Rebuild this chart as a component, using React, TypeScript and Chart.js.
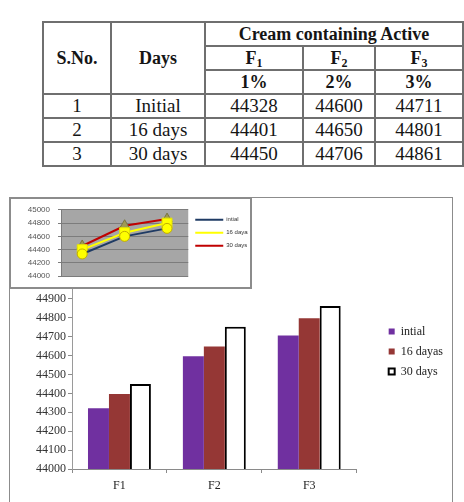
import React, { useEffect, useRef } from 'react';
import { Chart, registerables } from 'chart.js';

Chart.register(...registerables);

// ---------- table data ----------
const tableSNo = ['1', '2', '3'];
const tableDays = ['Initial', '16 days', '30 days'];
const formulationSubs = ['1', '2', '3'];
const concentrations = ['1%', '2%', '3%'];
const tableF1 = [44328, 44401, 44450];
const tableF2 = [44600, 44650, 44706];
const tableF3 = [44711, 44801, 44861];

// ---------- bar chart data ----------
const barCategories = ['F1', 'F2', 'F3'];
const seriesLabels = ['intial', '16 dayas', '30 days'];
const barInitial = [44322, 44597, 44706];
const bar16Days = [44397, 44648, 44797];
const bar30Days = [44450, 44752, 44862];
const barAxisMin = 44000;
const barAxisMax = 45000;
const barAxisStep = 100;

// ---------- inset line chart data ----------
const insetCategories = ['F1', 'F2', 'F3'];
const lineInitial = [44335, 44600, 44720];
const line16Days = [44400, 44655, 44800];
const line30Days = [44455, 44760, 44860];
const insetAxisMin = 44000;
const insetAxisMax = 45000;
const insetAxisStep = 200;

const SERIF = '"Liberation Serif", "Times New Roman", serif';
const SANS = '"Liberation Sans", Arial, sans-serif';

const plotBg = {
  id: 'plotBg',
  beforeDraw(chart: any, _args: any, opts: any) {
    if (!opts || !opts.color) return;
    const { ctx, chartArea: a } = chart;
    ctx.save();
    ctx.fillStyle = opts.color;
    ctx.fillRect(a.left, a.top, a.right - a.left, a.bottom - a.top);
    ctx.restore();
  },
};

const cell: React.CSSProperties = {
  border: '2px solid #6f6f6f',
  padding: 0,
  textAlign: 'center',
  verticalAlign: 'middle',
  whiteSpace: 'nowrap',
  fontFamily: SERIF,
  fontSize: 19,
  lineHeight: '20px',
  fontWeight: 'normal',
  color: '#151515',
};
const head: React.CSSProperties = { ...cell, fontWeight: 'bold', fontSize: 18 };

function DataTable() {
  const dataRows = tableSNo.map((s, i) => [s, tableDays[i], tableF1[i], tableF2[i], tableF3[i]]);
  return (
    <table
      style={{
        position: 'absolute',
        left: 42,
        top: 21,
        width: 420,
        borderCollapse: 'collapse',
        tableLayout: 'fixed',
        fontFamily: SERIF,
        fontSize: 19,
        lineHeight: '20px',
        color: '#151515',
      }}
    >
      <colgroup>
        <col style={{ width: 68 }} />
        <col style={{ width: 94 }} />
        <col style={{ width: 98 }} />
        <col style={{ width: 72 }} />
        <col style={{ width: 88 }} />
      </colgroup>
      <tbody>
        <tr style={{ height: 24 }}>
          <th rowSpan={3} style={head}>S.No.</th>
          <th rowSpan={3} style={head}>Days</th>
          <th colSpan={3} style={head}>Cream containing Active</th>
        </tr>
        <tr style={{ height: 24 }}>
          {formulationSubs.map((s) => (
            <th key={s} style={head}>
              F<sub style={{ fontSize: 12, lineHeight: 0, verticalAlign: '-3px' }}>{s}</sub>
            </th>
          ))}
        </tr>
        <tr style={{ height: 24 }}>
          {concentrations.map((c) => (
            <th key={c} style={head}>{c}</th>
          ))}
        </tr>
        {dataRows.map((r, i) => (
          <tr key={i} style={{ height: 24 }}>
            {r.map((v, j) => (
              <td key={j} style={cell}>{String(v)}</td>
            ))}
          </tr>
        ))}
      </tbody>
    </table>
  );
}

export default function App() {
  const mainRef = useRef<HTMLCanvasElement>(null);
  const insetRef = useRef<HTMLCanvasElement>(null);

  useEffect(() => {
    const tickLabel = (v: any) => String(v);

    const main = new Chart(mainRef.current as HTMLCanvasElement, {
      type: 'bar',
      data: {
        labels: barCategories,
        datasets: [
          { label: seriesLabels[0], data: barInitial, backgroundColor: '#7030A0', borderWidth: 0 },
          { label: seriesLabels[1], data: bar16Days, backgroundColor: '#953735', borderWidth: 0 },
          {
            label: seriesLabels[2],
            data: bar30Days,
            backgroundColor: '#FFFFFF',
            borderColor: '#000000',
            borderWidth: 2,
            borderSkipped: false,
          },
        ],
      },
      options: {
        responsive: false,
        animation: false,
        devicePixelRatio: 1,
        layout: { padding: { top: 83, right: 0, bottom: 0, left: 0 } },
        datasets: { bar: { categoryPercentage: 0.663, barPercentage: 1 } } as any,
        scales: {
          x: {
            grid: { display: true, drawOnChartArea: false, drawTicks: true, tickLength: 4, color: '#8a8a8a', offset: true },
            border: { display: true, color: '#8a8a8a' },
            ticks: { font: { family: SERIF, size: 12 }, color: '#222', padding: 6 },
            afterFit: (s: any) => { s.height = 33; },
          },
          y: {
            min: barAxisMin,
            max: barAxisMax,
            grid: { display: true, drawOnChartArea: false, drawTicks: true, tickLength: 4, color: '#8a8a8a' },
            border: { display: true, color: '#9a9a9a' },
            ticks: { stepSize: barAxisStep, callback: tickLabel, font: { family: SERIF, size: 12 }, color: '#333', padding: 2 },
            afterFit: (s: any) => { s.width = 63; },
          },
          yPad: {
            type: 'linear',
            position: 'right',
            display: true,
            grid: { display: false },
            border: { display: false },
            ticks: { display: false },
            afterFit: (s: any) => { s.width = 24; },
          },
        } as any,
        plugins: {
          legend: {
            position: 'right',
            align: 'start',
            fullSize: false,
            title: { display: true, text: '', padding: { top: 23, bottom: 0 }, font: { size: 12 } },
            labels: {
              boxWidth: 6,
              boxHeight: 6,
              padding: 8,
              font: { family: SERIF, size: 12 },
              color: '#222',
            },
          },
          tooltip: { enabled: false },
        },
      },
    });

    const inset = new Chart(insetRef.current as HTMLCanvasElement, {
      type: 'line',
      data: {
        labels: insetCategories,
        datasets: [
          {
            label: seriesLabels[0],
            data: lineInitial,
            borderColor: '#1F3B64',
            backgroundColor: '#1F3B64',
            borderWidth: 2,
            pointStyle: 'circle',
            pointRadius: 5,
            pointBackgroundColor: '#FFFF00',
            pointBorderColor: '#C2AE00',
            pointBorderWidth: 1,
          },
          {
            label: seriesLabels[1],
            data: line16Days,
            borderColor: '#FFFF00',
            backgroundColor: '#FFFF00',
            borderWidth: 2,
            pointStyle: 'rect',
            pointRadius: 7,
            pointBackgroundColor: '#FFFF00',
            pointBorderColor: '#E6E600',
            pointBorderWidth: 1,
          },
          {
            label: seriesLabels[2],
            data: line30Days,
            borderColor: '#C00000',
            backgroundColor: '#C00000',
            borderWidth: 2,
            pointStyle: 'triangle',
            pointRadius: 6,
            pointBackgroundColor: '#9F9A55',
            pointBorderColor: '#7A7640',
            pointBorderWidth: 1,
          },
        ],
      },
      options: {
        responsive: false,
        animation: false,
        devicePixelRatio: 1,
        layout: { padding: { top: 12, right: 4, bottom: 0, left: 0 } },
        scales: {
          x: {
            offset: true,
            grid: { display: false },
            border: { display: false },
            ticks: { display: false },
            afterFit: (s: any) => { s.height = 10; },
          },
          y: {
            min: insetAxisMin,
            max: insetAxisMax,
            grid: { display: true, drawOnChartArea: true, drawTicks: true, tickLength: 3, color: '#7c7c7c' },
            border: { display: true, color: '#7c7c7c' },
            ticks: { stepSize: insetAxisStep, callback: tickLabel, font: { family: SANS, size: 8 }, color: '#555', padding: 8 },
            afterFit: (s: any) => { s.width = 52; },
          },
        } as any,
        plugins: {
          plotBg: { color: '#A6A6A6' },
          legend: {
            position: 'right',
            align: 'start',
            fullSize: false,
            labels: {
              boxWidth: 28,
              boxHeight: 2,
              padding: 7,
              font: { family: SANS, size: 6 },
              color: '#333',
              generateLabels: (chart: any) => {
                const items = Chart.defaults.plugins.legend.labels.generateLabels(chart);
                return items.map((it: any) => {
                  const ds = chart.data.datasets[it.datasetIndex];
                  return { ...it, fillStyle: ds.borderColor, strokeStyle: ds.borderColor, lineWidth: 0 };
                });
              },
            },
          },
          tooltip: { enabled: false },
        } as any,
      },
      plugins: [plotBg],
    });

    return () => {
      main.destroy();
      inset.destroy();
    };
  }, []);

  return (
    <div style={{ position: 'absolute', left: 0, top: 0, width: 464, height: 502, overflow: 'hidden', background: '#fff' }}>
      <DataTable />
      <canvas
        ref={mainRef}
        width={444}
        height={305}
        style={{ position: 'absolute', left: 9, top: 197, width: 444, height: 305 }}
      />
      <div
        style={{
          position: 'absolute',
          left: 9,
          top: 197,
          width: 444,
          height: 320,
          boxSizing: 'border-box',
          border: '1px solid #8c8c8c',
          pointerEvents: 'none',
        }}
      />
      <canvas
        ref={insetRef}
        width={243}
        height={92}
        style={{ position: 'absolute', left: 9, top: 197, width: 243, height: 92, background: '#fff' }}
      />
      <div
        style={{
          position: 'absolute',
          left: 9,
          top: 197,
          width: 243,
          height: 92,
          boxSizing: 'border-box',
          border: '2px solid #8c8c8c',
          pointerEvents: 'none',
        }}
      />
    </div>
  );
}
